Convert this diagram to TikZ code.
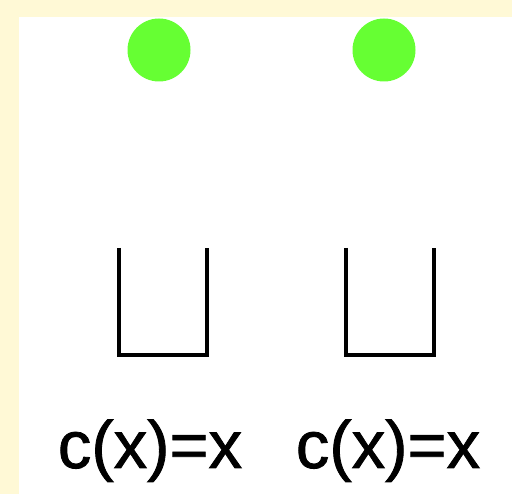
\documentclass[tikz,border=0pt]{standalone}
\usepackage{fontspec}
\setmainfont{Liberation Sans}
\newfontfamily\costfont{Liberation Sans}[FakeBold=1.2]
\usetikzlibrary{positioning}
\definecolor{cream}{HTML}{FFF9D6}
\definecolor{ballgreen}{HTML}{66FF33}

\begin{document}
\begin{tikzpicture}[x=1pt,y=-1pt]
\tikzstyle{ball}=[circle, fill=ballgreen, inner sep=0pt, minimum size=63pt];
\tikzstyle{bucket}=[line width=3.5pt, line join=miter];
\tikzstyle{cost}=[inner sep=0pt, font=\costfont\fontsize{67}{70}\selectfont];

% background
\fill[cream] (0,0) rectangle (512,494);
\fill[white] (19,17) rectangle (512,494);
\useasboundingbox (0,0) rectangle (512,494);

\draw (159,50) node[ball] (b1) {};
\draw (384,50) node[ball] (b2) {};

\coordinate (u1) at (119,248);
\coordinate (v1) at (207,248);
\coordinate (u2) at (346,248);
\coordinate (v2) at (434,248);

\draw[bucket] (u1) -- (u1 |- 0,355) -- (v1 |- 0,355) -- (v1);
\draw[bucket] (u2) -- (u2 |- 0,355) -- (v2 |- 0,355) -- (v2);

\node[cost, anchor=base] (c1) at (150,468) {c(x)=x};
\node[cost, anchor=base] (c2) at (388,468) {c(x)=x};

\end{tikzpicture}
\end{document}
